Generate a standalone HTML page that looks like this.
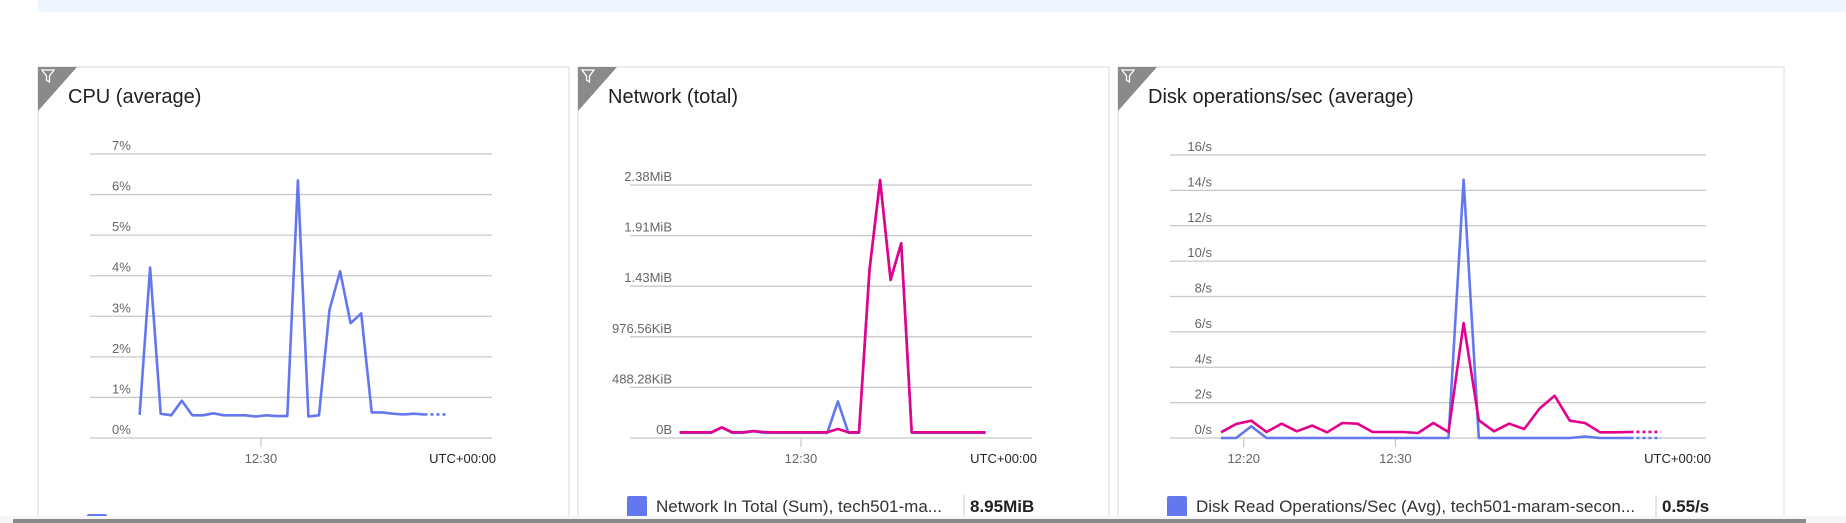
<!DOCTYPE html>
<html><head><meta charset="utf-8"><style>
html,body{margin:0;padding:0;background:#fff;width:1846px;height:523px;overflow:hidden;font-family:"Liberation Sans",sans-serif}
svg{display:block}
</style></head><body>
<svg id="s" width="1846" height="523" viewBox="0 0 1846 523" xmlns="http://www.w3.org/2000/svg">
<rect x="38" y="0" width="1808" height="12" fill="#eef5ff"/>
<g id="panels"></g>
<rect x="0" y="516" width="1846" height="7" fill="#f6f6f6"/>
<rect x="13" y="519" width="1793" height="4" fill="#8a8a8a"/>
</svg>
<script>
// shared time grid: minutes relative to 12:30
const cpuTimes = [-11.5,-10.5,-9.5,-8.5,-7.5,-6.5,-5.5,-4.5,-3.5,-2.5,-1.5,-0.5,0.5,1.5,2.5,3.5,4.5,5.5,6.5,7.5,8.5,9.5,10.5,11.5,12.5,13.5,14.5,15.5];
const cpuValues = [0.57,4.2,0.6,0.56,0.92,0.56,0.56,0.61,0.56,0.56,0.56,0.53,0.56,0.54,0.54,6.35,0.53,0.56,3.16,4.11,2.83,3.07,0.63,0.63,0.6,0.58,0.6,0.58];
const cpuTicks = ["0%","1%","2%","3%","4%","5%","6%","7%"];

const netTimes = [-11.5,-10.5,-9.5,-8.5,-7.5,-6.5,-5.5,-4.5,-3.5,-2.5,-1.5,-0.5,0.5,1.5,2.5,3.5,4.5,5.5,6.5,7.5,8.5,9.5,10.5,11.5,12.5,13.5,14.5,15.5,16.5,17.5];
const netInValues = [50,50,50,50,100,50,50,65,50,50,50,50,50,50,50,353,50,50,1622,2489,1526,1879,50,50,50,50,50,50,50,50];
const netOutValues = [55,55,55,55,103,55,55,67,57,55,55,55,55,55,55,87,55,55,1622,2489,1526,1879,55,55,55,55,55,55,55,55];
const netTicks = ["0B","488.28KiB","976.56KiB","1.43MiB","1.91MiB","2.38MiB"];

const diskTimes = cpuTimes;
const diskReadValues = [0,0,0.66,0,0,0,0,0,0,0,0,0,0,0,0,0,14.6,0,0,0,0,0,0,0,0.08,0,0,0];
const diskWriteValues = [0.32,0.79,0.98,0.34,0.81,0.38,0.7,0.32,0.85,0.81,0.34,0.34,0.34,0.28,0.85,0.34,6.5,1.0,0.38,0.81,0.51,1.66,2.39,0.98,0.85,0.32,0.32,0.34];
const diskTicks = ["0/s","2/s","4/s","6/s","8/s","10/s","12/s","14/s","16/s"];

const NS="http://www.w3.org/2000/svg";
const root=document.getElementById('panels');
function mk(tag,attrs,parent,text){const e=document.createElementNS(NS,tag);for(const k in attrs)e.setAttribute(k,attrs[k]);if(text!==undefined)e.textContent=text;(parent||root).appendChild(e);return e;}

function panel(cfg){
  const g=mk('g',{});
  
  
  const bg=mk('rect',{x:cfg.px,y:67,width:cfg.pw,height:460,fill:'#fff',stroke:'#e1e1e1','stroke-width':1.2},g);
  
  
  const tri=mk('path',{d:`M${cfg.px} 67 L${cfg.px+39} 67 L${cfg.px} 111 Z`,fill:'#8a8a8a'},g);
  
  
  const fx=cfg.px+4;
  mk('path',{d:`M${fx} 70 L${fx+12} 70 L${fx+7.5} 76 L${fx+7.5} 82 L${fx+4.5} 80 L${fx+4.5} 76 Z`,fill:'none',stroke:'#fff','stroke-width':1.3},g);
  const t=mk('text',{x:cfg.px+30,y:103,'font-size':20,fill:'#1f1f1f'},g,cfg.title);
  
  
  const x0=cfg.gx0,x1=cfg.gx1,y0=438,yTop=cfg.yTop;
  const n=cfg.ticks.length-1;
  const ys=v=>y0-(v/cfg.max)*(y0-yTop);
  const xs=m=>x0+(m-cfg.dMin)/(cfg.dMax-cfg.dMin)*(x1-x0);
  cfg.ticks.forEach((lab,i)=>{
    const y=y0-i*(y0-yTop)/n;
    const l=mk('line',{x1:x0,x2:x1,y1:y,y2:y,stroke:'#c8c8c8','stroke-width':1.3},g);
    
    
    const tx=mk('text',{x:cfg.labX,y:y-4,'font-size':13,fill:'#666','text-anchor':cfg.labAnchor},g,lab);
    
    
  });
  cfg.xticks.forEach(xt=>{
    const x=xs(xt.m);
    mk('line',{x1:x,x2:x,y1:y0,y2:447,stroke:'#c8c8c8','stroke-width':1.2},g);
    const tx=mk('text',{x:x,y:463,'font-size':13,fill:'#666','text-anchor':'middle'},g,xt.l);
    
    
  });
  const tz=mk('text',{x:cfg.utcX,y:463,'font-size':13,fill:'#222','text-anchor':'end'},g,'UTC+00:00');
  
  
  cfg.series.forEach(s=>{
    const pts=s.t.map((m,i)=>xs(m).toFixed(1)+','+ys(s.v[i]).toFixed(1)).join(' ');
    const p=mk('polyline',{points:pts,fill:'none',stroke:s.c,'stroke-width':2.6,'stroke-linejoin':'round'},g);
    
    
    if(s.dots){
      const lastT=s.t[s.t.length-1],lastV=s.v[s.v.length-1];
      const d=mk('line',{x1:xs(lastT),x2:xs(lastT+2),y1:ys(lastV),y2:ys(lastV),stroke:s.c,'stroke-width':2.6,'stroke-dasharray':'3 3'},g);
      
      
    }
  });
  if(cfg.legend){
    const L=cfg.legend;
    const sq=mk('rect',{x:L.x,y:496,width:20,height:22,rx:2,fill:'#6378ee'},g);
    
    
    const lt=mk('text',{x:L.x+29,y:512,'font-size':17,fill:'#333'},g,L.text);
    
    
    mk('line',{x1:L.sep,x2:L.sep,y1:495,y2:516,stroke:'#ccc','stroke-width':1},g);
    const lv=mk('text',{x:L.sep+6,y:512,'font-size':17,fill:'#222','font-weight':'bold'},g,L.val);
    
    
  } else {
    mk('rect',{x:87,y:514,width:20,height:8,rx:2,fill:'#6378ee'},g);
  }
}

panel({name:'cpu',title:'CPU (average)',px:38,pw:531,gx0:90,gx1:492,yTop:154,max:7,ticks:cpuTicks,
  labX:112,labAnchor:'start',dMin:-16.2,dMax:21.9,xticks:[{m:0,l:'12:30'}],utcX:496,
  series:[{name:'cpu-line',t:cpuTimes,v:cpuValues,c:'#6378ee',dots:true}]});
panel({name:'network',title:'Network (total)',px:578,pw:531,gx0:630,gx1:1032,yTop:185,max:2441.4,ticks:netTicks,
  labX:672,labAnchor:'end',dMin:-16.2,dMax:21.9,xticks:[{m:0,l:'12:30'}],utcX:1037,
  series:[{name:'network-in-line',t:netTimes,v:netInValues,c:'#6378ee'},{name:'network-out-line',t:netTimes,v:netOutValues,c:'#e3008c'}],
  legend:{x:627,text:'Network In Total (Sum), tech501-ma...',sep:964,val:'8.95MiB'}});
panel({name:'disk',title:'Disk operations/sec (average)',px:1118,pw:666,gx0:1170,gx1:1706,yTop:155,max:16,ticks:diskTicks,
  labX:1212,labAnchor:'end',dMin:-14.86,dMax:20.48,xticks:[{m:-10,l:'12:20'},{m:0,l:'12:30'}],utcX:1711,
  series:[{name:'disk-read-line',t:diskTimes,v:diskReadValues,c:'#6378ee',dots:true},{name:'disk-write-line',t:diskTimes,v:diskWriteValues,c:'#e3008c',dots:true}],
  legend:{x:1167,text:'Disk Read Operations/Sec (Avg), tech501-maram-secon...',sep:1656,val:'0.55/s'}});
</script>
</body></html>
